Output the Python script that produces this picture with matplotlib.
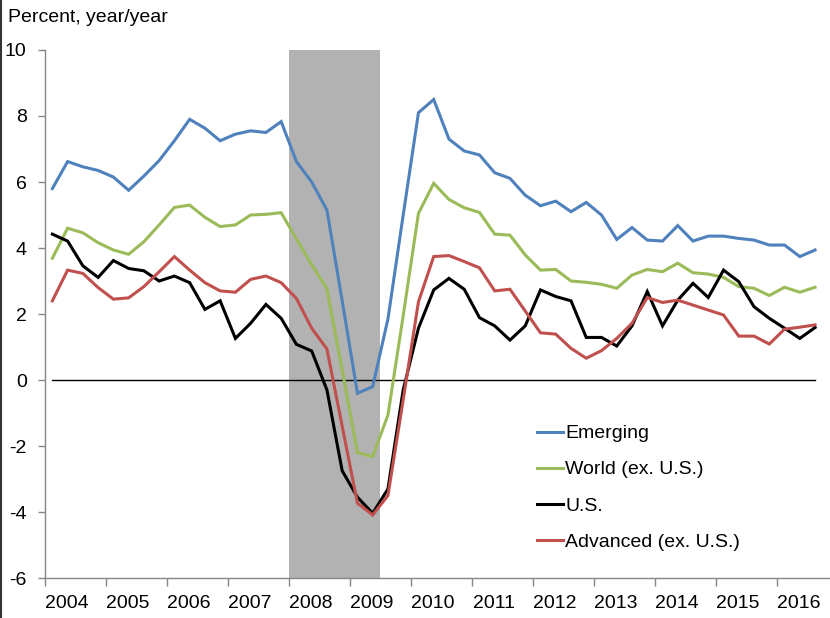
import matplotlib as mpl
mpl.use('Agg')
import matplotlib.pyplot as plt
from matplotlib.lines import Line2D
import numpy as np

plt.rcParams['font.family'] = ['Liberation Sans', 'DejaVu Sans']
plt.rcParams['axes.unicode_minus'] = False

# quarterly GDP growth, 2004Q1 .. 2016Q3
start_year = 2004
years = list(range(2004, 2017))

emerging = [5.8, 6.62, 6.46, 6.35, 6.15, 5.75, 6.18, 6.65, 7.25, 7.9, 7.63, 7.25,
            7.45, 7.55, 7.5, 7.83, 6.62, 6.0, 5.15, 2.4, -0.4, -0.2, 1.85, 5.0,
            8.1, 8.5, 7.3, 6.94, 6.82, 6.28, 6.11, 5.6, 5.28, 5.42, 5.1, 5.38,
            5.0, 4.26, 4.62, 4.24, 4.21, 4.68, 4.21, 4.36, 4.36, 4.29, 4.24, 4.09,
            4.09, 3.74, 3.94]
world = [3.69, 4.6, 4.46, 4.16, 3.94, 3.81, 4.19, 4.7, 5.23, 5.3, 4.93, 4.65,
         4.7, 5.0, 5.02, 5.07, 4.27, 3.5, 2.76, 0.3, -2.2, -2.32, -1.06, 1.95,
         5.05, 5.96, 5.47, 5.22, 5.08, 4.42, 4.39, 3.79, 3.33, 3.35, 3.0, 2.96,
         2.9, 2.78, 3.18, 3.35, 3.28, 3.54, 3.25, 3.21, 3.11, 2.83, 2.78, 2.56,
         2.81, 2.66, 2.81]
us = [4.42, 4.21, 3.46, 3.11, 3.62, 3.38, 3.31, 3.0, 3.15, 2.95, 2.14, 2.4,
      1.26, 1.72, 2.29, 1.87, 1.08, 0.88, -0.3, -2.75, -3.55, -4.04, -3.3, -0.3,
      1.57, 2.73, 3.08, 2.75, 1.89, 1.64, 1.21, 1.64, 2.73, 2.53, 2.4, 1.29,
      1.29, 1.03, 1.64, 2.68, 1.64, 2.42, 2.93, 2.5, 3.33, 2.98, 2.22, 1.87,
      1.57, 1.26, 1.59]
advanced = [2.4, 3.33, 3.23, 2.8, 2.45, 2.49, 2.83, 3.28, 3.74, 3.33, 2.95, 2.7,
            2.66, 3.05, 3.15, 2.95, 2.47, 1.57, 0.94, -1.4, -3.73, -4.09, -3.5, -0.6,
            2.37, 3.74, 3.77, 3.59, 3.4, 2.7, 2.75, 2.09, 1.43, 1.39, 0.96, 0.66,
            0.89, 1.26, 1.72, 2.5, 2.35, 2.42, 2.27, 2.12, 1.97, 1.33, 1.33, 1.09,
            1.54, 1.6, 1.67]

recession = (2008.0, 2009.5)

series = [
    ('Emerging', emerging, '#4F81BD'),
    ('World (ex. U.S.)', world, '#9BBB59'),
    ('U.S.', us, '#000000'),
    ('Advanced (ex. U.S.)', advanced, '#C0504D'),
]

x = start_year + (np.arange(len(us)) + 0.5) / 4.0

fig = plt.figure(figsize=(8.3, 6.18), dpi=100)
ax = fig.add_axes([0.0539, 0.0647, 0.9461, 0.8544])

ax.axvspan(recession[0], recession[1], color='#B2B2B2', lw=0, zorder=0)
ax.plot([x[0], x[-1]], [0, 0], color='black', lw=1.0, zorder=1)

for name, vals, col in series:
    ax.plot(x, vals, color=col, lw=2.2, label=name, zorder=3,
            solid_joinstyle='miter')

ax.set_xlim(2004.0, 2016.87)
ax.set_ylim(-6, 10)
ax.set_yticks(range(-6, 11, 2))

# year boundaries as ticks, labels placed between them
ax.set_xticks(years)
ax.set_xticklabels([])
ax.set_xticks([yr + 0.36 for yr in years], minor=True)
ax.set_xticklabels([str(yr) for yr in years], minor=True)
ax.tick_params(axis='x', which='major', direction='out', length=6,
               color='#868686', width=1)
ax.tick_params(axis='x', which='minor', length=0, pad=12, labelsize=14)
ax.tick_params(axis='y', direction='out', length=5, color='#868686',
               width=1, pad=8, labelsize=14)

for s in ['top', 'right']:
    ax.spines[s].set_visible(False)
for s in ['left', 'bottom']:
    ax.spines[s].set_color('#868686')
    ax.spines[s].set_linewidth(1)

leg = ax.legend(loc='upper left', bbox_to_anchor=(0.617, 0.305), frameon=False,
                fontsize=14, handlelength=1.34, handletextpad=0.1,
                labelspacing=0.95, borderaxespad=0)

fig.text(8 / 830, 1 - 18 / 618, 'Percent, year/year', fontsize=14,
         va='center', ha='left')
fig.add_artist(Line2D([0.0012, 0.0012], [0, 1], color='#333333', lw=1.5,
                      transform=fig.transFigure))

plt.savefig('out.png', dpi=100)
